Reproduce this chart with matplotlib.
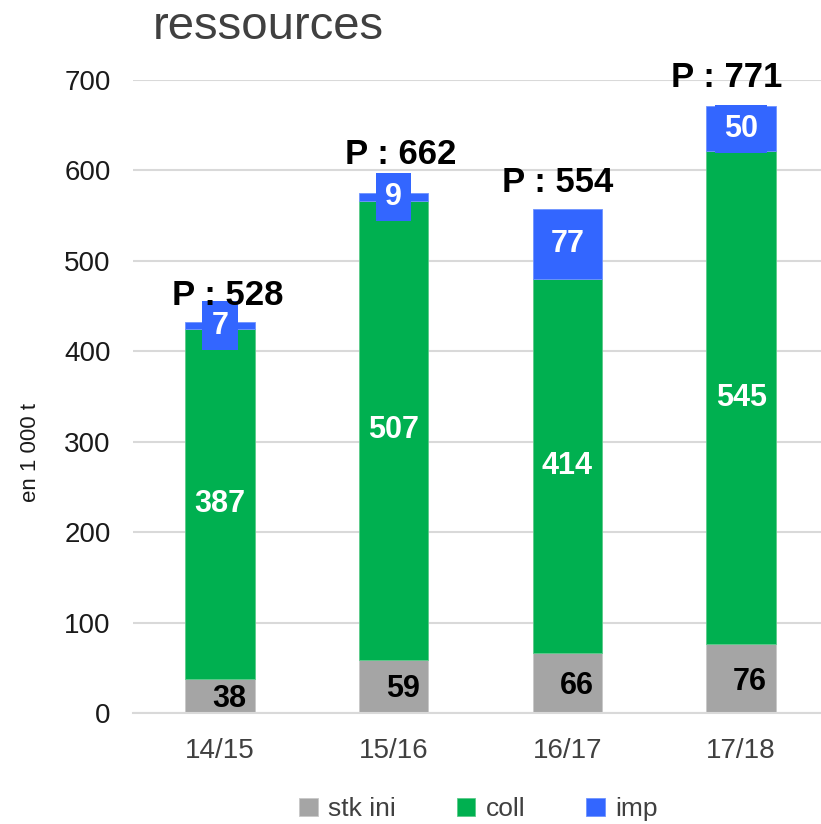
#Ressources par campagne : stock initial, collecte et importations (en 1 000 t)
import numpy as np
import matplotlib.pyplot as plt

plt.rcParams['font.family'] = ['Liberation Sans', 'DejaVu Sans']

#valeurs du graphique
campagnes = ['14/15', '15/16', '16/17', '17/18']
stk_ini = [38, 59, 66, 76]
coll = [387, 507, 414, 545]
imp = [7, 9, 77, 50]
production = [528, 662, 554, 771]

#decalage des etiquettes "P : ..." (en pixels)
p_dx = [8, 7, -10, -14]
p_dy = [10, 22, 10, 12]

gris = '#A5A5A5'
vert = '#00B050'
bleu = '#3366FF'

fig = plt.figure(figsize=(8.21, 8.24), dpi=100)
ax = fig.add_axes([133/821, 111/824, 695/821, 633/824])

x = np.arange(len(campagnes))
largeur = 0.40
bas2 = np.array(stk_ini)
bas3 = bas2 + np.array(coll)
total = bas3 + np.array(imp)

ax.bar(x, stk_ini, largeur, color=gris, edgecolor='#C8C8C8', linewidth=0.6, label='stk ini', zorder=2)
ax.bar(x, coll, largeur, bottom=bas2, color=vert, edgecolor='#5CCB8A', linewidth=0.6, label='coll', zorder=2)
ax.bar(x, imp, largeur, bottom=bas3, color=bleu, edgecolor='#6F93FF', linewidth=0.6, label='imp', zorder=2)

#etiquettes des valeurs
for i in range(len(campagnes)):
    ax.annotate(str(stk_ini[i]), (x[i], stk_ini[i] / 2), xytext=(9, -3), textcoords='offset pixels',
                ha='center', va='center', fontsize=22, fontweight='bold', color='black', zorder=4)
    ax.text(x[i], bas2[i] + coll[i] / 2, str(coll[i]), ha='center', va='center',
            fontsize=22, fontweight='bold', color='white', zorder=4)
    ax.text(x[i], bas3[i] + imp[i] / 2, str(imp[i]), ha='center', va='center',
            fontsize=22, fontweight='bold', color='white', zorder=4,
            bbox=dict(boxstyle='square,pad=0.3', facecolor=bleu, edgecolor='none'))
    ax.annotate('P : ' + str(production[i]), (x[i], total[i]), xytext=(p_dx[i], p_dy[i]),
                textcoords='offset pixels', ha='center', va='bottom', fontsize=25,
                fontweight='bold', color='black', zorder=5, annotation_clip=False)

ax.set_xlim(-0.5, 3.5)
ax.set_ylim(0, 700)
ax.set_yticks(range(0, 701, 100))
ax.set_xticks(x)
ax.set_xticklabels(campagnes, fontsize=20, color='#404040')
ax.tick_params(axis='y', labelsize=20, labelcolor='#1A1A1A', length=0, pad=16)
ax.tick_params(axis='x', length=0, pad=18)
ax.yaxis.grid(True, color='#D9D9D9', linewidth=1.5, zorder=0)
ax.set_axisbelow(True)
for s in ['top', 'right', 'left']:
    ax.spines[s].set_visible(False)
ax.spines['bottom'].set_color('#D9D9D9')
ax.spines['bottom'].set_linewidth(1.5)

fig.text(153/821, 1 - 27/824, 'ressources', fontsize=34, color='#404040', ha='left', va='center')
fig.text(30/821, 1 - 452/824, 'en 1 000 t', fontsize=16, color='#1A1A1A', rotation=90,
         ha='center', va='center')

fig.legend(loc='center', bbox_to_anchor=(0.583, 1 - 809/824), ncol=3, frameon=False,
           fontsize=19, handlelength=0.7, handleheight=0.7, handletextpad=0.4,
           columnspacing=2.3, labelcolor='#404040')

fig.savefig('out.png', dpi=100)
